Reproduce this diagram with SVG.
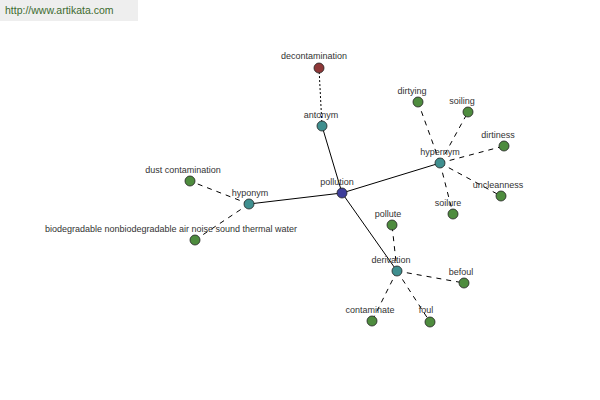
<svg xmlns="http://www.w3.org/2000/svg" width="600" height="400" viewBox="0 0 600 400">
<style>
text{font-family:"Liberation Sans",Arial,sans-serif;font-size:9px;fill:#333;text-anchor:middle}
.e{stroke:#000;stroke-width:1;fill:none}
.d{stroke:#000;stroke-width:1;fill:none;stroke-dasharray:5,5}
.o{stroke:#000;stroke-width:1;fill:none;stroke-dasharray:2,2}
circle{stroke:#222;stroke-width:0.8}
.leaf{fill:#4e8c3e}
.rel{fill:#3f8f8f}
.root{fill:#3d3d9a}
.ant{fill:#8e3838}
</style>
<rect x="0" y="0" width="600" height="400" fill="#fff"/>
<rect x="0" y="0" width="138" height="21" fill="#eeeeee"/>
<text x="5" y="14" style="text-anchor:start;font-size:10.5px;fill:#3d6b2e">http://www.artikata.com</text>
<g id="connectors">
<line class="e" x1="342" y1="193" x2="322" y2="126"/>
<line class="o" x1="322" y1="126" x2="319" y2="68"/>
<line class="e" x1="342" y1="193" x2="440" y2="163"/>
<line class="e" x1="342" y1="193" x2="249" y2="204"/>
<line class="e" x1="342" y1="193" x2="397" y2="271"/>
<line class="d" x1="440" y1="163" x2="418" y2="102"/>
<line class="d" x1="440" y1="163" x2="468" y2="112"/>
<line class="d" x1="440" y1="163" x2="504" y2="146"/>
<line class="d" x1="440" y1="163" x2="501" y2="196"/>
<line class="d" x1="440" y1="163" x2="453" y2="214"/>
<line class="d" x1="249" y1="204" x2="190" y2="181"/>
<line class="d" x1="249" y1="204" x2="195" y2="240"/>
<line class="d" x1="397" y1="271" x2="392" y2="225"/>
<line class="d" x1="397" y1="271" x2="464" y2="283"/>
<line class="d" x1="397" y1="271" x2="372" y2="321"/>
<line class="d" x1="397" y1="271" x2="430" y2="322"/>
</g>
<g id="decontamination"><circle class="ant" cx="319" cy="68" r="5"/><text x="314" y="59">decontamination</text></g>
<g id="antonym"><circle class="rel" cx="322" cy="126" r="5"/><text x="321" y="118">antonym</text></g>
<g id="pollution"><circle class="root" cx="342" cy="193" r="5"/><text x="337" y="185">pollution</text></g>
<g id="hypernym"><circle class="rel" cx="440" cy="163" r="5"/><text x="440" y="155">hypernym</text></g>
<g id="dirtying"><circle class="leaf" cx="418" cy="102" r="5"/><text x="412" y="94">dirtying</text></g>
<g id="soiling"><circle class="leaf" cx="468" cy="112" r="5"/><text x="462" y="104">soiling</text></g>
<g id="dirtiness"><circle class="leaf" cx="504" cy="146" r="5"/><text x="498" y="138">dirtiness</text></g>
<g id="uncleanness"><circle class="leaf" cx="501" cy="196" r="5"/><text x="498" y="188">uncleanness</text></g>
<g id="soilure"><circle class="leaf" cx="453" cy="214" r="5"/><text x="448" y="206">soilure</text></g>
<g id="hyponym"><circle class="rel" cx="249" cy="204" r="5"/><text x="250" y="196">hyponym</text></g>
<g id="dust-contamination"><circle class="leaf" cx="190" cy="181" r="5"/><text x="183" y="173">dust contamination</text></g>
<g id="biodegradable"><circle class="leaf" cx="195" cy="240" r="5"/><text x="171" y="232">biodegradable nonbiodegradable air noise sound thermal water</text></g>
<g id="derivation"><circle class="rel" cx="397" cy="271" r="5"/><text x="391" y="263">derivation</text></g>
<g id="pollute"><circle class="leaf" cx="392" cy="225" r="5"/><text x="388" y="217">pollute</text></g>
<g id="befoul"><circle class="leaf" cx="464" cy="283" r="5"/><text x="461" y="275">befoul</text></g>
<g id="contaminate"><circle class="leaf" cx="372" cy="321" r="5"/><text x="370" y="313">contaminate</text></g>
<g id="foul"><circle class="leaf" cx="430" cy="322" r="5"/><text x="426" y="313">foul</text></g>
</svg>
